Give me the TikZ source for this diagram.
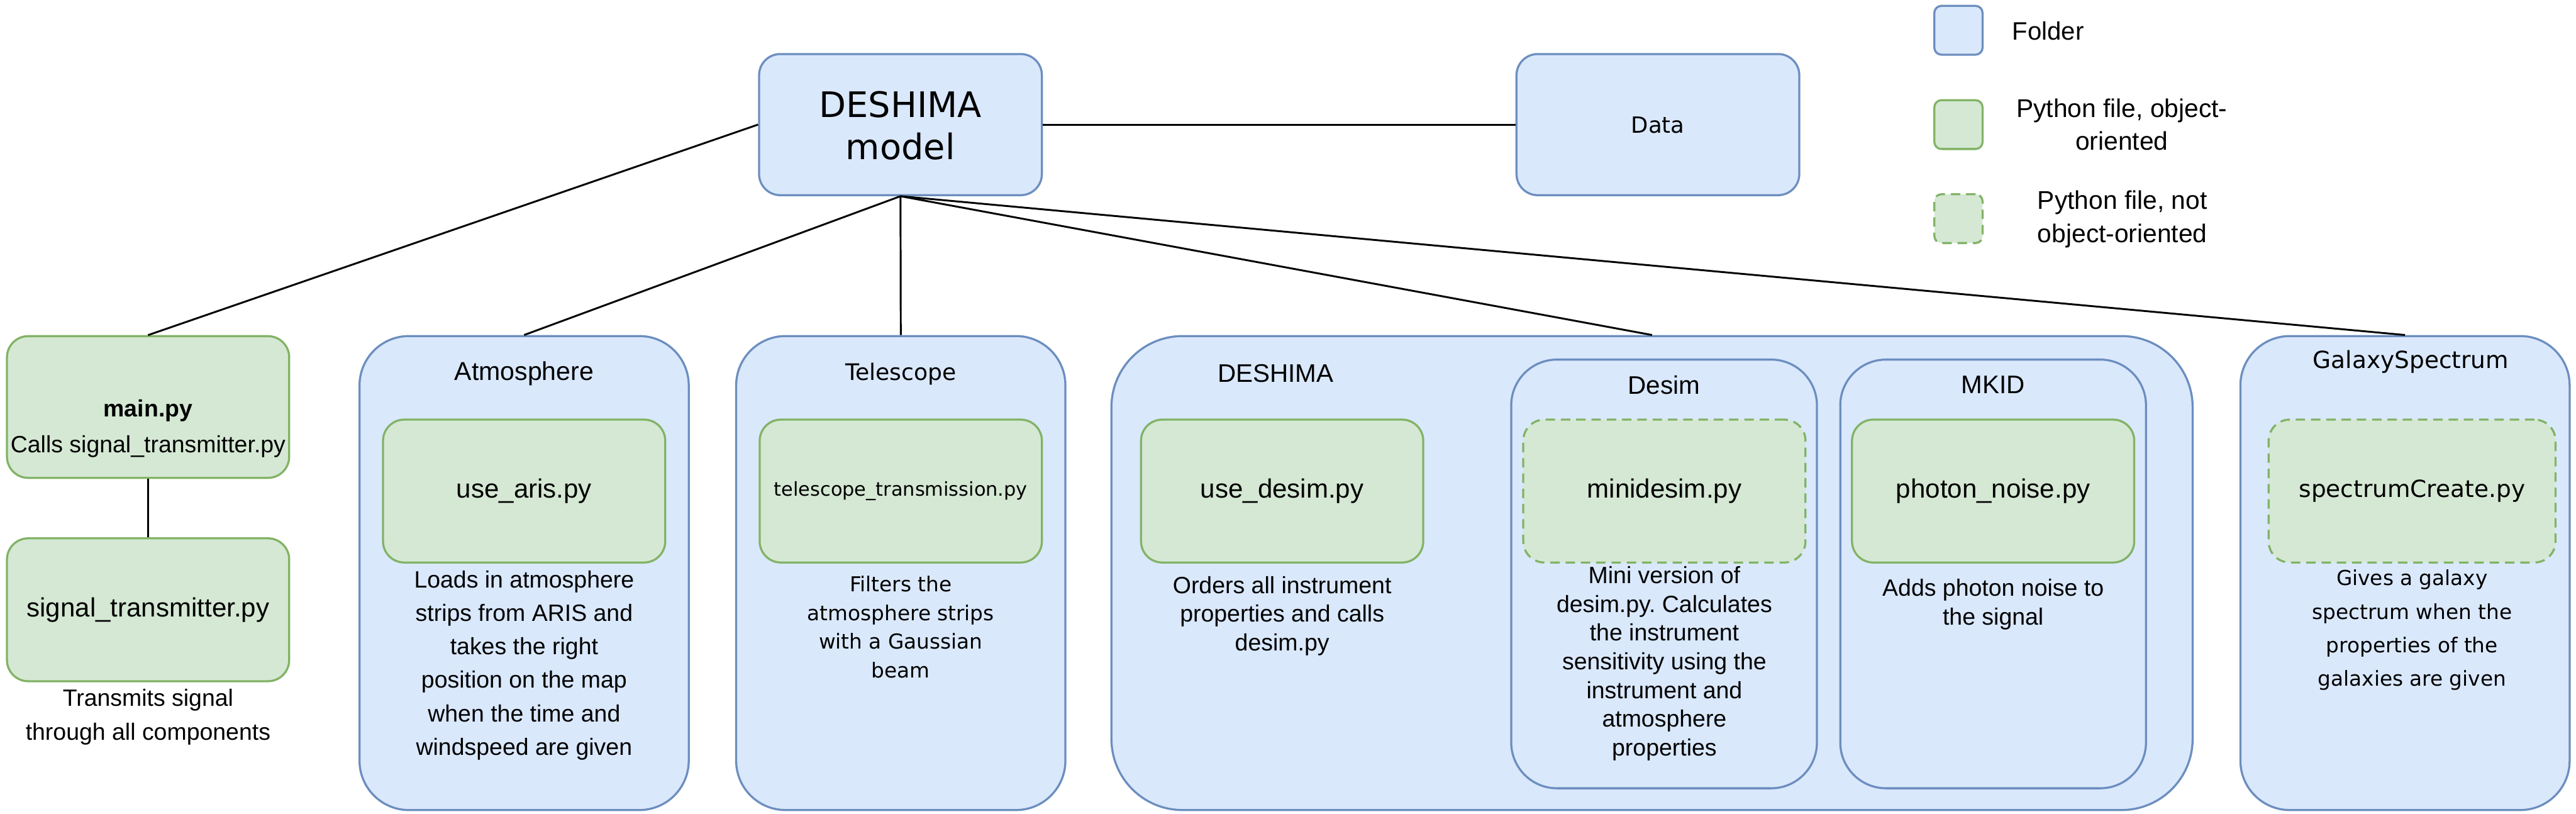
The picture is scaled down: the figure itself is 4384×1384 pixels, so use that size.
\documentclass[tikz,border=0pt]{standalone}
\usepackage{fontspec}
\frenchspacing
\newfontfamily\arialf{Liberation Sans}
\newfontfamily\verdf{DejaVu Sans}
\definecolor{fstroke}{HTML}{6C8EBF}
\definecolor{ffill}{HTML}{DAE8FC}
\definecolor{gstroke}{HTML}{82B366}
\definecolor{gfill}{HTML}{D5E8D4}
\tikzset{
  folder/.style={draw=fstroke, fill=ffill, line width=1pt, inner sep=0},
  pyfile/.style={draw=gstroke, fill=gfill, line width=1pt, inner sep=0, rounded corners=0.36cm, minimum width=4.8cm, minimum height=2.43cm},
  pydash/.style={pyfile, dash pattern=on 0.16cm off 0.1cm},
  link/.style={draw=black, line width=0.9pt},
  txt/.style={align=center, inner sep=0},
  desc/.style={txt, font={\arialf\fontsize{11.4}{16.2}\selectfont}},
  descs/.style={txt, font={\arialf\fontsize{11.4}{13.9}\selectfont}},
  title/.style={txt, font={\arialf\fontsize{12.3}{14}\selectfont}},
  fname/.style={txt, font={\arialf\fontsize{12.8}{15}\selectfont}},
}
\begin{document}
\begin{tikzpicture}[x=0.01cm, y=-0.01cm]
\useasboundingbox (0,0) rectangle (4384,1384);
% top level
\node[folder, rounded corners=0.36cm, minimum width=4.81cm, minimum height=2.40cm] (model) at (1532.5,212) {};
\node[txt, font={\verdf\fontsize{17}{20.5}\selectfont}] (modeltxt) at (1532.5,214) {DESHIMA\\model};
\node[folder, rounded corners=0.36cm, minimum width=4.81cm, minimum height=2.40cm] (data) at (2821.5,212) {};
\node[txt, font={\verdf\fontsize{10.8}{13}\selectfont}] (datatxt) at (2821.5,213) {Data};
% legend
\node[folder, rounded corners=0.12cm, minimum width=0.82cm, minimum height=0.83cm] (lgfolder) at (3333,51.5) {};
\node[txt, anchor=west, font={\arialf\fontsize{12.2}{15.9}\selectfont}] (lgfoldertxt) at (3424,53) {Folder};
\node[pyfile, rounded corners=0.12cm, minimum width=0.82cm, minimum height=0.83cm] (lgpy) at (3333,212) {};
\node[txt, font={\arialf\fontsize{12.4}{15.9}\selectfont}] (lgpytxt) at (3611,212) {Python file, object-\\oriented};
\node[pydash, rounded corners=0.12cm, minimum width=0.82cm, minimum height=0.83cm] (lgpyd) at (3333,372) {};
\node[txt, font={\arialf\fontsize{12.4}{15.9}\selectfont}] (lgpydtxt) at (3612,373) {Python file, not\\object-oriented};
% main.py and signal_transmitter
\node[pyfile, minimum height=2.41cm] (mainpy) at (252,692.5) {};
\node[txt, font={\arialf\fontsize{11.4}{17.4}\selectfont}] (mainpytxt) at (252,729) {\bfseries main.py\\Calls signal\_transmitter.py};
\node[pyfile] (sigtr) at (252,1037.5) {};
\node[fname] (sigtrtxt) at (252,1037.5) {signal\_transmitter.py};
\node[desc] (sigtrdesc) at (252,1220) {Transmits signal\\through all components};
% Atmosphere
\node[folder, rounded corners=0.84cm, minimum width=5.6cm, minimum height=8.06cm] (atm) at (892,975) {};
\node[txt, font={\arialf\fontsize{12.5}{14}\selectfont}] (atmtitle) at (892,636) {Atmosphere};
\node[pyfile] (aris) at (892,835.5) {};
\node[fname] (aristxt) at (892,835.5) {use\_aris.py};
\node[desc] (atmdesc) at (892,1132) {Loads in atmosphere\\strips from ARIS and\\takes the right\\position on the map\\when the time and\\windspeed are given};
% Telescope
\node[folder, rounded corners=0.84cm, minimum width=5.6cm, minimum height=8.06cm] (tel) at (1533,975) {};
\node[txt, font={\verdf\fontsize{11}{13}\selectfont}] (teltitle) at (1533,636) {Telescope};
\node[pyfile] (teltr) at (1533,835.5) {};
\node[txt, font={\verdf\fontsize{9.25}{11}\selectfont}] (teltrtxt) at (1533,835.5) {telescope\_transmission.py};
\node[txt, font={\verdf\fontsize{9.96}{13.9}\selectfont}] (teldesc) at (1533,1067) {Filters the\\atmosphere strips\\with a Gaussian\\beam};
% DESHIMA
\node[folder, rounded corners=1.21cm, minimum width=18.39cm, minimum height=8.06cm] (desh) at (2811.5,975) {};
\node[title] (deshtitle) at (2171,635) {DESHIMA};
\node[pyfile] (usedesim) at (2182,835.5) {};
\node[fname] (usedesimtxt) at (2182,835.5) {use\_desim.py};
\node[descs] (usedesimdesc) at (2182,1048) {Orders all instrument\\properties and calls\\desim.py};
\node[folder, rounded corners=0.78cm, minimum width=5.2cm, minimum height=7.29cm] (desim) at (2832,976.5) {};
\node[title] (desimtitle) at (2832,655) {Desim};
\node[pydash] (minidesim) at (2832.5,835.5) {};
\node[fname] (minidesimtxt) at (2832.5,835.5) {minidesim.py};
\node[descs] (minidesimdesc) at (2832.5,1129) {Mini version of\\desim.py. Calculates\\the instrument\\sensitivity using the\\instrument and\\atmosphere\\properties};
\node[folder, rounded corners=0.78cm, minimum width=5.2cm, minimum height=7.29cm] (mkid) at (3392,976.5) {};
\node[title] (mkidtitle) at (3392,655) {MKID};
\node[pyfile] (photon) at (3392,835.5) {};
\node[fname] (photontxt) at (3392,835.5) {photon\_noise.py};
\node[descs] (photondesc) at (3392,1028) {Adds photon noise to\\the signal};
% GalaxySpectrum
\node[folder, rounded corners=0.84cm, minimum width=5.6cm, minimum height=8.06cm] (gal) at (4093,975) {};
\node[txt, font={\verdf\fontsize{11.4}{13}\selectfont}] (galtitle) at (4103,616) {GalaxySpectrum};
\node[pydash, minimum width=4.88cm] (spec) at (4105,835.5) {};
\node[txt, font={\verdf\fontsize{11.4}{13}\selectfont}] (spectxt) at (4105,835.5) {spectrumCreate.py};
\node[txt, font={\verdf\fontsize{9.96}{16.2}\selectfont}] (galdesc) at (4105,1072) {Gives a galaxy\\spectrum when the\\properties of the\\galaxies are given};
% connectors
\draw[link] (model.east) -- (data.west);
\draw[link] (model.west) -- (mainpy.north);
\draw[link] (mainpy.south) -- (sigtr.north);
\draw[link] (model.south) -- (atm.north);
\draw[link] (model.south) -- (tel.north);
\draw[link] (model.south) -- (desh.north);
\draw[link] (model.south) -- (gal.north);
\end{tikzpicture}
\end{document}
